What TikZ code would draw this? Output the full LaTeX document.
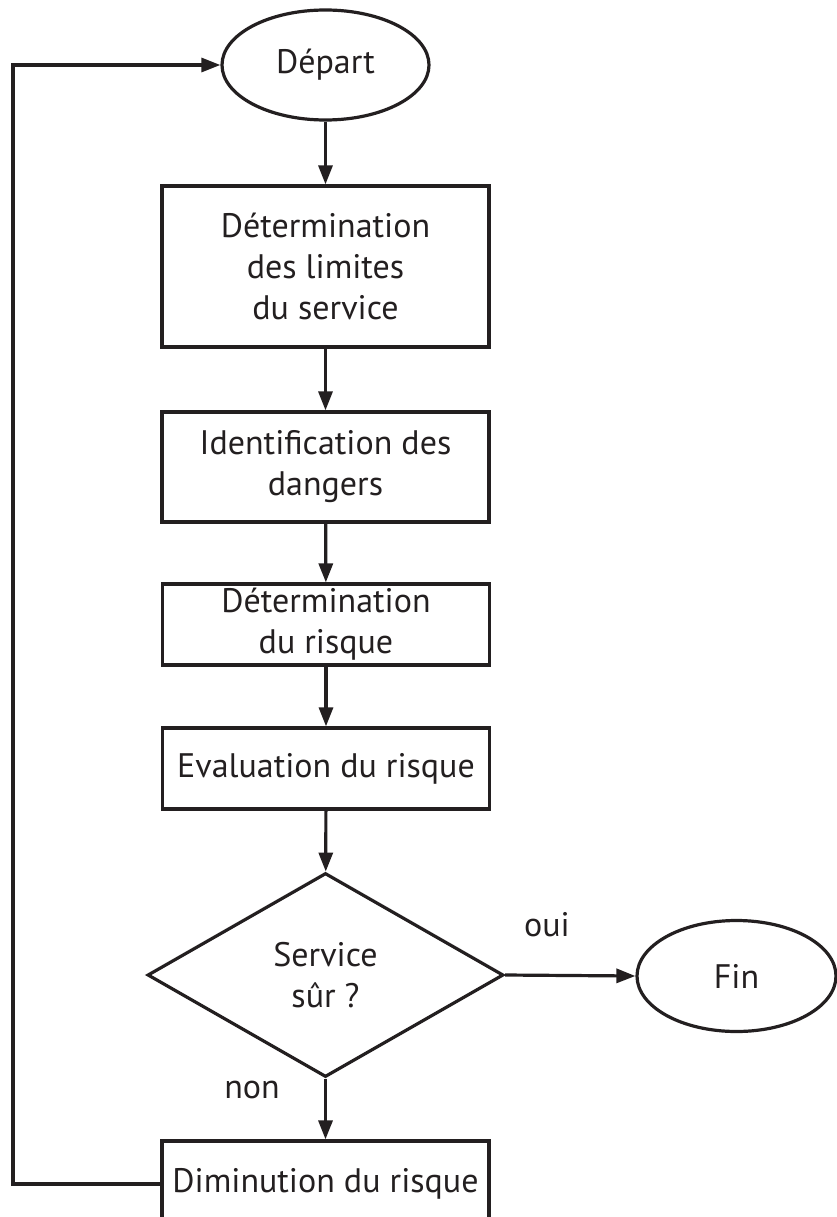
\documentclass[tikz,border=0pt]{standalone}
\usepackage{fontspec}
\setmainfont{PT Sans}
\usetikzlibrary{shapes.geometric,arrows.meta}
\definecolor{ink}{HTML}{231F20}
\begin{document}
\begin{tikzpicture}[x=1pt,y=-1pt,
  every node/.style={font=\fontsize{34}{41}\selectfont, text=ink},
  box/.style={draw=ink, line width=3.2pt, rectangle, minimum width=327pt, inner sep=0pt, align=center},
  term/.style={draw=ink, line width=3.2pt, ellipse, inner sep=0pt},
  decision/.style={draw=ink, line width=3.2pt, diamond, inner sep=0pt, minimum width=356pt, minimum height=204pt, align=center},
  flow/.style={draw=ink, line width=3.2pt, -{Triangle[length=19pt,width=14pt]}},
  loop/.style={draw=ink, line width=3.2pt}]
\useasboundingbox (0,0) rectangle (836,1217);
\node[term, minimum width=207pt, minimum height=110pt] (depart) at (325.5,65) {Départ};
\node[box, minimum height=161pt] (b1) at (325.5,266.5) {Détermination\\des limites\\du service};
\node[box, minimum height=110pt] (b2) at (325.5,467) {Identification des\\dangers};
\node[box, minimum height=81pt] (b3) at (326,624.5) {Détermination\\du risque};
\node[box, minimum height=81pt] (b4) at (326,768.5) {Evaluation du risque};
\node[decision] (d) at (325.5,975) {Service\\sûr ?};
\node[term, minimum width=199pt, minimum height=111pt] (fin) at (736.5,976) {Fin};
\node[box, minimum height=86pt] (b5) at (325.5,1184) {Diminution du risque};
\node (oui) at (547,925) {oui};
\node (non) at (252,1090) {non};
\coordinate (c1) at (13,1184);
\coordinate (c2) at (13,65);
\draw[flow] (depart) -- (b1);
\draw[flow] (b1) -- (b2);
\draw[flow] (b2) -- (b3);
\draw[flow] (b3) -- (b4);
\draw[flow] (b4) -- (d);
\draw[flow] (d.east) -- (fin.west);
\draw[flow] (d.south) -- (b5.north);
\draw[flow] (b5.west) -- (c1) -- (c2) -- (depart.west);
\end{tikzpicture}
\end{document}
